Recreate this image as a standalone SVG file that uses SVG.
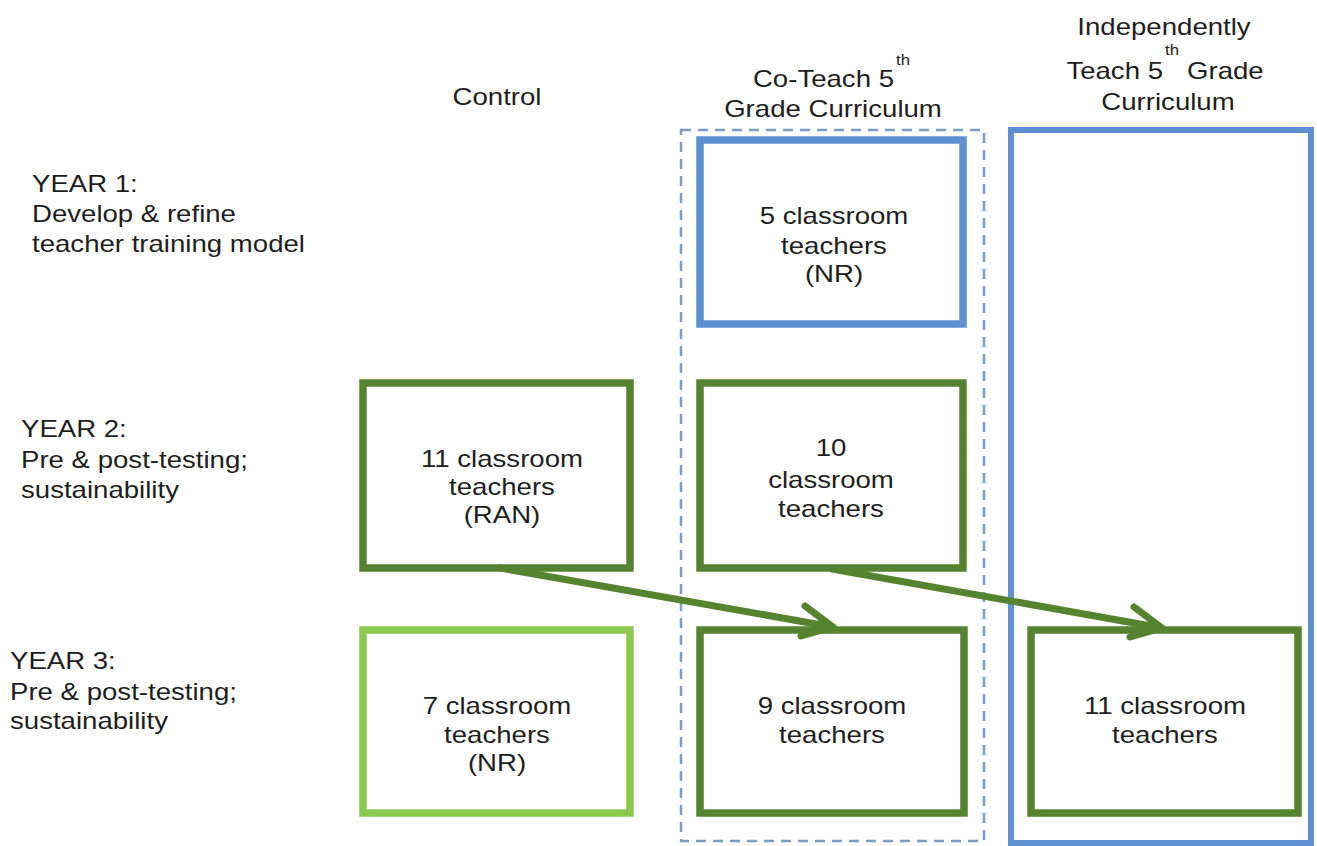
<svg xmlns="http://www.w3.org/2000/svg" width="1317" height="846" viewBox="0 0 1317 846">
<style>
text{font-family:"Liberation Sans",Arial,sans-serif;font-size:23px;fill:#1e1e1e}
.sup{font-size:14px}
.box{fill:none;stroke-width:7.5}
.dg{stroke:#55832f}
.lg{stroke:#8cc84b}
.bl{stroke:#5e90d4}
.dash{fill:none;stroke:#7f9cc4;stroke-width:2.5;stroke-dasharray:10 7}
.conn{fill:none;stroke:#55832f;stroke-width:7;stroke-linecap:round;stroke-linejoin:round}
</style>
<rect width="1317" height="846" fill="#ffffff"/>

<g id="headers">
<text transform="translate(497,105) scale(1.2,1)" text-anchor="middle">Control</text>
<text transform="translate(894,87) scale(1.2,1)" text-anchor="end">Co-Teach 5</text>
<text class="sup" transform="translate(896,65) scale(1.2,1)">th</text>
<text transform="translate(833,117) scale(1.2,1)" text-anchor="middle">Grade Curriculum</text>
<text transform="translate(1164,35) scale(1.2,1)" text-anchor="middle">Independently</text>
<text transform="translate(1163,79) scale(1.2,1)" text-anchor="end">Teach 5</text>
<text class="sup" transform="translate(1165,55) scale(1.2,1)">th</text>
<text transform="translate(1187,79) scale(1.2,1)">Grade</text>
<text transform="translate(1168,110) scale(1.2,1)" text-anchor="middle">Curriculum</text>
</g>

<g id="year1-label">
<text transform="translate(32,192) scale(1.2,1)"><tspan x="0" y="0">YEAR 1:</tspan><tspan x="0" y="30">Develop &amp; refine</tspan><tspan x="0" y="60">teacher training model</tspan></text>
</g>
<g id="year2-label">
<text transform="translate(21,437) scale(1.2,1)"><tspan x="0" y="0">YEAR 2:</tspan><tspan x="0" y="31">Pre &amp; post-testing;</tspan><tspan x="0" y="61">sustainability</tspan></text>
</g>
<g id="year3-label">
<text transform="translate(10,669) scale(1.2,1)"><tspan x="0" y="0">YEAR 3:</tspan><tspan x="0" y="31">Pre &amp; post-testing;</tspan><tspan x="0" y="60">sustainability</tspan></text>
</g>

<g id="coteach-column">
<rect class="dash" x="681" y="130" width="303" height="711"/>
</g>
<g id="independent-column">
<rect class="box bl" style="stroke-width:6" x="1011" y="130" width="300" height="713"/>
</g>

<g id="y1-coteach">
<rect class="box bl" x="700" y="140" width="263" height="184"/>
<text transform="translate(834,224) scale(1.2,1)" text-anchor="middle"><tspan x="0" y="0">5 classroom</tspan><tspan x="0" y="30">teachers</tspan><tspan x="0" y="58">(NR)</tspan></text>
</g>

<g id="y2-control">
<rect class="box dg" x="363" y="383" width="267" height="185"/>
<text transform="translate(502,467) scale(1.2,1)" text-anchor="middle"><tspan x="0" y="0">11 classroom</tspan><tspan x="0" y="28">teachers</tspan><tspan x="0" y="56">(RAN)</tspan></text>
</g>

<g id="y2-coteach">
<rect class="box dg" x="700" y="383" width="263" height="185"/>
<text transform="translate(831,456) scale(1.2,1)" text-anchor="middle"><tspan x="0" y="0">10</tspan><tspan x="0" y="32">classroom</tspan><tspan x="0" y="61">teachers</tspan></text>
</g>

<g id="y3-control">
<rect class="box lg" x="363" y="630" width="267" height="183"/>
<text transform="translate(497,714) scale(1.2,1)" text-anchor="middle"><tspan x="0" y="0">7 classroom</tspan><tspan x="0" y="29">teachers</tspan><tspan x="0" y="57">(NR)</tspan></text>
</g>

<g id="y3-coteach">
<rect class="box dg" x="700" y="630" width="264" height="183"/>
<text transform="translate(832,714) scale(1.2,1)" text-anchor="middle"><tspan x="0" y="0">9 classroom</tspan><tspan x="0" y="29">teachers</tspan></text>
</g>

<g id="y3-independent">
<rect class="box dg" x="1031" y="630" width="267" height="183"/>
<text transform="translate(1165,714) scale(1.2,1)" text-anchor="middle"><tspan x="0" y="0">11 classroom</tspan><tspan x="0" y="29">teachers</tspan></text>
</g>

<g id="connectors">
<path class="conn" d="M500,568 L833,627 M805,606 L833,627 L801,636"/>
<path class="conn" d="M832,569 L1162,628 M1134,607 L1162,628 L1130,637"/>
</g>
</svg>
